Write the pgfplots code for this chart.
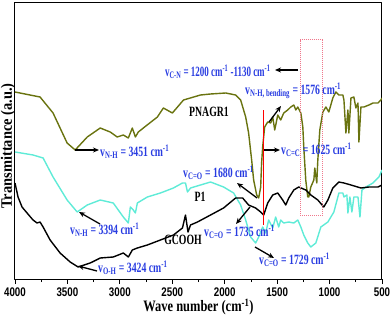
\documentclass[border=0pt]{standalone}
\usepackage{fontspec}
\setmainfont{Liberation Serif}
\newfontfamily\tickfont{Liberation Sans}
\usepackage{graphicx}
\usepackage{pgfplots}
\pgfplotsset{compat=1.18}
\usetikzlibrary{arrows.meta}
\definecolor{olivec}{RGB}{105,115,15}
\definecolor{cyanc}{RGB}{95,235,215}
\definecolor{annblue}{RGB}{40,60,225}
\definecolor{pinkc}{RGB}{240,120,140}
\newcommand{\sy}[1]{\scalebox{1}[1.28]{#1}}
\newcommand{\sya}[1]{\scalebox{1}[1.45]{#1}}
\newcommand{\ann}[2]{\sya{v\textsubscript{#1} = #2 cm\textsuperscript{-1}}}
\begin{document}
\begin{tikzpicture}
\begin{axis}[
  scale only axis, width=367bp, height=276bp,
  xmin=500, xmax=4000, x dir=reverse,
  ymin=0, ymax=276,
  ytick=\empty,
  xtick={500,1000,...,4000}, minor xtick={750,1250,...,3750},
  xtick pos=left, tick align=outside,
  major tick length=5bp, minor tick length=3bp,
  tick style={line width=0.8bp, black},
  axis line style={line width=1bp},
  xticklabel={\sy{\pgfmathprintnumber[1000 sep={},assume math mode=true]{\tick}}},
  xticklabel style={font=\tickfont\bfseries\fontsize{9.8}{10}\selectfont, yshift=0bp},
  xlabel={\sy{Wave number (cm\textsuperscript{-1})}},
  xlabel style={font=\bfseries\fontsize{12.5}{14}\selectfont, at={(axis description cs:0.5,0)}, anchor=center, yshift=-28bp},
  line join=round,
]
\addplot[olivec, line width=1.4bp] coordinates {
(4000,187)(3761,182)(3637,166)(3503,136)(3426,129)(3311,142)(3187,151)(3092,147)(3025,142)(2967,144)(2919,141)(2881,151)(2852,142)(2824,147)(2776,151)(2642,162)(2585,171)(2499,166)(2393,179)(2231,184)(2135,185)(1990,186)(1896,184)(1848,179)(1800,162)(1772,146)(1743,119)(1724,99)(1695,84)(1676,81)(1657,92)(1648,116)(1638,132)(1619,152)(1590,157)(1561,156)(1542,162)(1523,149)(1494,164)(1466,159)(1437,166)(1399,169)(1370,172)(1341,174)(1322,169)(1303,172)(1274,166)(1255,152)(1246,132)(1227,99)(1208,82)(1198,82)(1179,92)(1150,99)(1141,111)(1122,96)(1112,119)(1093,149)(1064,167)(1035,172)(1007,167)(969,181)(940,187)(911,184)(873,184)(863,179)(844,146)(825,169)(816,146)(796,181)(768,182)(749,171)(729,176)(720,137)(701,172)(672,172)(624,174)(586,176)(538,176)(510,179)(500,181)
};
\addplot[cyanc, line width=1.4bp] coordinates {
(4000,127)(3828,124)(3732,121)(3637,102)(3503,79)(3407,67)(3311,74)(3187,79)(3063,76)(2967,62)(2919,56)(2900,72)(2872,69)(2852,66)(2833,76)(2738,82)(2613,86)(2489,91)(2403,96)(2374,96)(2355,87)(2326,91)(2231,94)(2135,97)(2011,92)(1915,86)(1848,74)(1800,59)(1753,42)(1705,36)(1676,42)(1638,52)(1609,46)(1581,59)(1542,51)(1514,62)(1485,52)(1466,59)(1437,56)(1389,57)(1341,56)(1303,59)(1274,52)(1246,44)(1208,36)(1179,32)(1131,36)(1083,52)(1016,57)(959,67)(911,86)(873,86)(863,82)(835,84)(825,66)(806,82)(787,67)(768,82)(729,82)(710,62)(691,89)(653,92)(586,96)(529,102)(500,109)
};
\addplot[black, line width=1.4bp] coordinates {
(4000,96)(3971,82)(3933,72)(3885,66)(3828,59)(3790,56)(3761,57)(3732,52)(3665,39)(3570,26)(3474,17)(3398,12)(3283,16)(3187,21)(3063,22)(2967,26)(2919,22)(2881,29)(2833,31)(2738,34)(2613,39)(2489,44)(2403,51)(2374,64)(2350,47)(2326,54)(2260,57)(2135,64)(2011,71)(1896,81)(1829,81)(1772,74)(1705,71)(1657,67)(1628,64)(1590,76)(1542,84)(1494,86)(1447,79)(1418,74)(1389,81)(1341,89)(1294,92)(1227,89)(1179,84)(1112,79)(1055,72)(1016,79)(969,91)(911,97)(863,96)(796,94)(701,91)(624,92)(538,92)(500,94)
};
\end{axis}
% annotations (axis box lower-left at origin, 1bp = 1px)
\node[rotate=90, font=\bfseries\fontsize{14.5}{16}\selectfont] at (-7bp,133bp) {\scalebox{1}[1.1]{Transmittance (a.u.)}};
\draw[red, line width=1bp] (248bp,54bp) -- (248bp,169bp);
\draw[pinkc, line width=1bp, densely dotted] (285bp,63bp) rectangle (307bp,239bp);
\begin{scope}[font=\bfseries\fontsize{9.8}{11}\selectfont]
\node[annblue, anchor=west, inner sep=0pt] at (150bp,207bp) {\scalebox{0.92}[1.45]{v\textsubscript{C-N} = 1200 cm\textsuperscript{-1} -1130 cm\textsuperscript{-1}}};
\node[black, inner sep=0pt] at (194bp,167bp) {\sya{PNAGR1}};
\node[annblue, anchor=west, inner sep=0pt] at (85bp,127bp) {\ann{N-H}{3451}};
\node[annblue, anchor=west, inner sep=0pt] at (230bp,188bp) {\ann{N-H, bending}{1576}};
\node[annblue, anchor=west, inner sep=0pt] at (266bp,129bp) {\ann{C=C}{1625}};
\node[annblue, anchor=west, inner sep=0pt] at (168bp,106bp) {\ann{C=O}{1680}};
\node[black, inner sep=0pt] at (185bp,82bp) {\sya{P1}};
\node[annblue, anchor=west, inner sep=0pt] at (55bp,49bp) {\ann{N-H}{3394}};
\node[black, inner sep=0pt] at (168bp,39bp) {\sya{GCOOH}};
\node[annblue, anchor=west, inner sep=0pt] at (189bp,47bp) {\ann{C=O}{1735}};
\node[annblue, anchor=west, inner sep=0pt] at (244bp,19bp) {\ann{C=O}{1729}};
\node[annblue, anchor=west, inner sep=0pt] at (83bp,11bp) {\ann{O-H}{3424}};
\end{scope}
\begin{scope}[line width=1.3bp, -{Stealth[length=6bp,width=5bp]}]
\draw (283bp,209bp) -- (260bp,209bp);
\draw (60bp,129bp) -- (84bp,129bp);
\draw (254bp,157bp) -- (266bp,173bp);
\draw (249bp,129bp) -- (265bp,129bp);
\draw (242bp,81bp) -- (222bp,96bp);
\draw (85bp,55bp) -- (64bp,67bp);
\draw (235bp,72bp) -- (221bp,55bp);
\draw (240bp,32bp) -- (259bp,21bp);
\draw (82bp,8bp) -- (63bp,13bp);
\end{scope}
\pgfresetboundingbox
\path (-15bp,-36bp) rectangle (376bp,279bp);
\end{tikzpicture}
\end{document}
